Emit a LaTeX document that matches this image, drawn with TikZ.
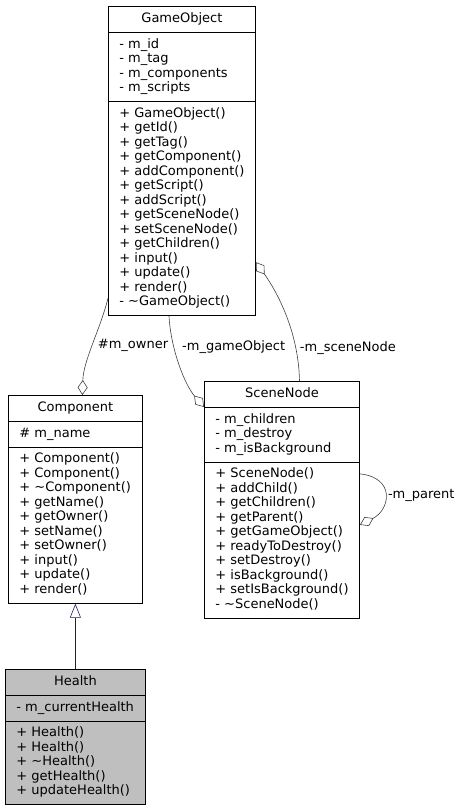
\documentclass[tikz,border=0pt]{standalone}
\usepackage{fontspec}
\newfontfamily\umlfont{DejaVu Sans}
\usetikzlibrary{arrows.meta,shapes.multipart}
\definecolor{edgegray}{HTML}{404040}
\definecolor{basefill}{HTML}{BFBFBF}
\definecolor{inheritblue}{HTML}{191970}
\begin{document}
\begin{tikzpicture}[x=1pt, y=-1pt,
    every node/.style={font=\umlfont\fontsize{13pt}{14.5pt}\selectfont},
    umlclass/.style={draw, rectangle split, rectangle split parts=3,
      rectangle split part align={center,left,left}, align=left,
      inner xsep=11pt, inner ysep=5.25pt, anchor=north west, line width=0.8pt},
    agg/.style={draw=edgegray, line width=0.6pt, -{Diamond[open,length=15pt,width=10pt]}},
    inherit/.style={draw=inheritblue, line width=0.6pt, -{Triangle[open,length=14pt,width=11pt]}},
    edgelabel/.style={inner sep=1pt}
    ]
    \useasboundingbox (0,0) rectangle (461,809);

    % Define classes
    \node[umlclass, minimum width=147pt] (GameObject) at (108,6) {\strut GameObject
      \nodepart{second}\strut - m\_id\\ - m\_tag\\ - m\_components\\ - m\_scripts\strut
      \nodepart{third}\strut + GameObject()\\ + getId()\\ + getTag()\\ + getComponent()\\
        + addComponent()\\ + getScript()\\ + addScript()\\ + getSceneNode()\\
        + setSceneNode()\\ + getChildren()\\ + input()\\ + update()\\ + render()\\
        - \textasciitilde GameObject()\strut};
    \node[umlclass, minimum width=134pt] (Component) at (8,395) {\strut Component
      \nodepart{second}\strut \# m\_name\strut
      \nodepart{third}\strut + Component()\\ + Component()\\ + \textasciitilde Component()\\
        + getName()\\ + getOwner()\\ + setName()\\ + setOwner()\\ + input()\\
        + update()\\ + render()\strut};
    \node[umlclass, minimum width=155pt] (SceneNode) at (204,381) {\strut SceneNode
      \nodepart{second}\strut - m\_children\\ - m\_destroy\\ - m\_isBackground\strut
      \nodepart{third}\strut + SceneNode()\\ + addChild()\\ + getChildren()\\ + getParent()\\
        + getGameObject()\\ + readyToDestroy()\\ + setDestroy()\\ + isBackground()\\
        + setIsBackground()\\ - \textasciitilde SceneNode()\strut};
    \node[umlclass, minimum width=140pt, fill=basefill] (Health) at (5,669) {\strut Health
      \nodepart{second}\strut - m\_currentHealth\strut
      \nodepart{third}\strut + Health()\\ + Health()\\ + \textasciitilde Health()\\
        + getHealth()\\ + updateHealth()\strut};

    % Draw relations
    \draw[inherit] (Health.north) -- (Component.south);
    \draw[agg] ([yshift=18pt]GameObject.south west) .. controls +(-8,32) and +(1,-35) ..
      ([xshift=7pt]Component.north) node[edgelabel, pos=0.5, right=4pt] {\#m\_owner};
    \draw[agg] ([xshift=61pt]GameObject.south west) .. controls +(2,34) and +(-19,-22) ..
      ([yshift=-26pt]SceneNode.north west) node[edgelabel, pos=0.3, right=7pt] {-m\_gameObject};
    \draw[agg] ([xshift=17.5pt]SceneNode.north) .. controls +(-1,-51) and +(20,28) ..
      ([yshift=54pt]GameObject.south east) node[edgelabel, pos=0.23, right=3pt] {-m\_sceneNode};
    \draw[agg] ([yshift=26pt]SceneNode.east) .. controls +(36,4) and +(30,-15) ..
      ([yshift=-25pt]SceneNode.east) node[edgelabel, pos=0.5, right=2pt] {-m\_parent};

\end{tikzpicture}
\end{document}
